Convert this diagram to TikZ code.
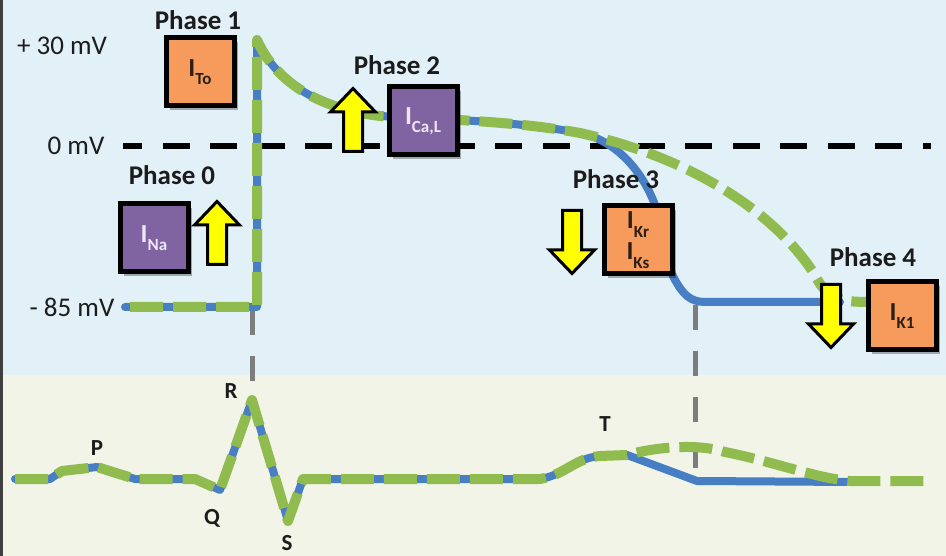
\documentclass[tikz,border=0pt]{standalone}
\usepackage{fontspec}
\setmainfont{Carlito}
\usetikzlibrary{shadows}

\definecolor{skyback}{RGB}{226,240,248}
\definecolor{ecgback}{RGB}{241,244,230}
\definecolor{apgreen}{RGB}{143,187,79}
\definecolor{apblue}{RGB}{72,127,196}
\definecolor{boxorange}{RGB}{247,155,93}
\definecolor{boxpurple}{RGB}{128,100,162}
\definecolor{lavender}{RGB}{238,230,246}
\definecolor{guidegray}{RGB}{125,125,125}
\definecolor{arrowyellow}{RGB}{255,255,0}
\definecolor{inktext}{RGB}{28,28,28}
\definecolor{boxtext}{RGB}{45,30,20}

% ion current symbol: I with a lowered subscript
\newcommand\ioncur[1]{I\raisebox{-0.32em}{\fontsize{17}{18}\selectfont #1}}

\tikzset{
  phaselabel/.style={font=\fontsize{27}{30}\selectfont\bfseries, text=inktext, inner sep=0pt},
  mvlabel/.style={font=\fontsize{27}{30}\selectfont, text=inktext, inner sep=0pt},
  wavelabel/.style={font=\fontsize{23}{26}\selectfont\bfseries, text=inktext, inner sep=0pt},
  currentbox/.style={draw=black, line width=5pt, minimum size=68pt, inner sep=0pt,
    align=center, font=\fontsize{26}{26}\selectfont\bfseries,
    drop shadow={shadow xshift=4pt, shadow yshift=-4pt, opacity=0.3, fill=black}},
  orangebox/.style={currentbox, fill=boxorange, text=boxtext},
  purplebox/.style={currentbox, fill=boxpurple, text=lavender},
  normaltrace/.style={draw=apblue, line width=8pt, line join=round, line cap=round},
  longtrace/.style={draw=apgreen, line width=10pt, line join=round,
    dash pattern=on 33pt off 10pt},
  guideline/.style={draw=guidegray, line width=5pt, dash pattern=on 25pt off 21pt},
  zeroline/.style={draw=black, line width=6pt, dash pattern=on 27pt off 20.5pt, dash phase=8pt},
  blockarrow/.pic={
    \draw[line width=3pt, fill=arrowyellow, line join=miter]
      (0,-31.5) -- (22.5,-8) -- (9.5,-8) -- (9.5,31.5) -- (-9.5,31.5)
      -- (-9.5,-8) -- (-22.5,-8) -- cycle;
  }
}

\begin{document}
\begin{tikzpicture}[x=1pt,y=-1pt]
\useasboundingbox (0,0) rectangle (946,556);

% two panels: action potential above, surface ECG below
\fill[skyback] (0,0) rectangle (946,375);
\fill[ecgback] (0,375) rectangle (946,556);
\draw[line width=3pt, black!75] (1.5,0) -- (1.5,556);

% 0 mV reference
\coordinate (zeroL) at (123,146);
\coordinate (zeroR) at (931,146);
\draw[zeroline] (zeroL) -- (zeroR);

% vertical guides linking the two traces
\coordinate (upA) at (252,310);
\coordinate (upB) at (252,384);
\coordinate (repA) at (695,305);
\coordinate (repB) at (695,480);
\draw[guideline] (upA) -- (upB);
\draw[guideline] (repA) -- (repB);

% action potential: normal (blue) and prolonged (green)
\coordinate (rest0) at (125,307);
\coordinate (upfoot) at (257,307);
\coordinate (peak) at (257,40);
\coordinate (plat) at (580,133);
\draw[normaltrace] (rest0) -- (upfoot) -- (peak)
  .. controls (275,80) and (315,108) .. (380,116)
  .. controls (460,120) and (520,122) .. (plat)
  .. controls (615,140) and (642,170) .. (655,205)
  .. controls (662,232) and (665,262) .. (675,280)
  .. controls (683,294) and (690,302) .. (705,302) -- (840,302);
\draw[longtrace, dash phase=38pt] (rest0) -- (upfoot) -- (peak)
  .. controls (275,80) and (315,108) .. (380,116)
  .. controls (460,120) and (520,122) .. (plat)
  .. controls (680,155) and (770,205) .. (815,275)
  .. controls (825,295) and (835,302) .. (866,302);

% ECG: normal (blue) and long QT (green)
\coordinate (ecg0) at (15,479);
\coordinate (tpeak) at (627,455);
\draw[normaltrace] (ecg0) -- (50,479) -- (62,471) -- (97,467) -- (135,479)
  -- (195,479) -- (220,490) -- (252,400) -- (288,521) -- (303,479) -- (540,479)
  .. controls (565,475) and (575,458) .. (600,456) -- (tpeak)
  -- (697,481) -- (853,482);
\draw[longtrace] (ecg0) -- (50,479) -- (62,471) -- (97,467) -- (135,479)
  -- (195,479) -- (220,490) -- (252,400) -- (288,521) -- (303,479) -- (540,479)
  .. controls (565,475) and (575,458) .. (600,456) -- (tpeak)
  .. controls (660,446) and (700,444) .. (725,452)
  .. controls (775,462) and (815,478) .. (850,481) -- (930,481);

% voltage labels
\node[mvlabel] (mv30) at (62,46) {+ 30 mV};
\node[mvlabel] (mv0) at (76,146) {0 mV};
\node[mvlabel] (mv85) at (72,307) {- 85 mV};

% ion currents
\node[orangebox] (ito) at (200,72) {\ioncur{To}};
\node[purplebox] (ina) at (154,238) {\ioncur{Na}};
\node[purplebox] (ical) at (423,121) {\ioncur{Ca,L}};
\node[orangebox] (ikr) at (638,240) {\ioncur{Kr}\\[5pt]\ioncur{Ks}};
\node[orangebox] (ik1) at (902,316) {\ioncur{K1}};

% direction of each current
\pic at (217,233) {blockarrow};
\pic at (353,120) {blockarrow};
\pic[rotate=180] at (572,242) {blockarrow};
\pic[rotate=180] at (831,316) {blockarrow};

% phase labels
\node[phaselabel] (ph1) at (198,20) {Phase 1};
\node[phaselabel] (ph2) at (397,65) {Phase 2};
\node[phaselabel] (ph0) at (172,175) {Phase 0};
\node[phaselabel] (ph3) at (616,179) {Phase 3};
\node[phaselabel] (ph4) at (873,257) {Phase 4};

% ECG wave labels
\node[wavelabel] (wp) at (97,448) {P};
\node[wavelabel] (wq) at (212,518) {Q};
\node[wavelabel] (wr) at (231,391) {R};
\node[wavelabel] (ws) at (287,543) {S};
\node[wavelabel] (wt) at (605,424) {T};
\end{tikzpicture}
\end{document}
